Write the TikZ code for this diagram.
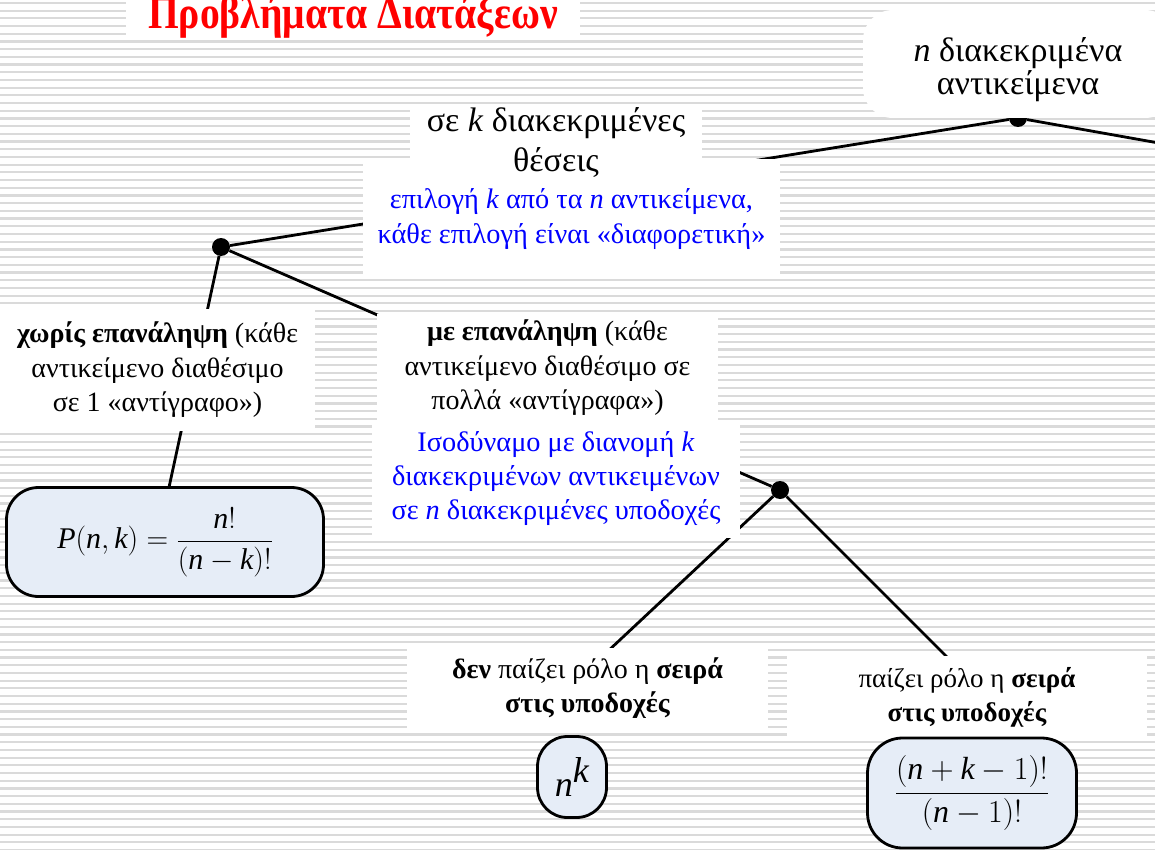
\RequirePackage{fix-cm}
\documentclass[tikz,border=0pt]{standalone}
\usepackage{fontspec}
\setmainfont{Liberation Serif}
\definecolor{boxblue}{RGB}{230,237,247}
\definecolor{stripe}{RGB}{218,218,218}
\newcommand{\iv}[1]{\textit{#1}}
\begin{document}
\begin{tikzpicture}[x=1pt,y=-1pt,
	dot/.style = {circle, fill = black, minimum size = 18pt, inner sep = 0pt},
	link/.style = {line width = 2.8pt},
	note/.style = {fill = white, align = center, inner sep = 0pt, font = {\fontsize{28}{34.5}\selectfont}},
	formula/.style = {draw, fill = boxblue, line width = 2.8pt, rounded corners = 30pt, inner sep = 0pt, font = {\fontsize{30}{36}\selectfont}}]
	\useasboundingbox (0,0) rectangle (1155,850);
	\foreach \y in {3,10.7,...,850} \draw[stripe, line width = 2.2pt] (0,\y) -- (1155,\y);
	% branch points
	\node[dot] (objdot) at (1018,118) {};
	\node[dot] (posdot) at (221,247) {};
	\node[dot] (repdot) at (780,490) {};
	\coordinate (edge) at (1170,145);
	\coordinate (pend) at (168,492);
	\coordinate (unordend) at (607,652);
	\coordinate (ordend) at (948,658);
	\draw[link] (objdot) -- (edge);
	\draw[link] (objdot) -- (posdot);
	\draw[link] (posdot) -- (pend);
	\draw[link] (posdot) -- (repdot);
	\draw[link] (repdot) -- (unordend);
	\draw[link] (repdot) -- (ordend);
	% title
	\node[fill = white, inner xsep = 22pt, inner ysep = 1pt, anchor = base, text = red, font = {\fontsize{46}{48}\selectfont\bfseries}] (title) at (353,29) {\scalebox{0.86}[1]{Προβλήματα Διατάξεων}};
	% text boxes
	\node[fill = white, rounded corners = 30pt, minimum width = 312pt, minimum height = 108pt] (objbox) at (1019,64) {};
	\node[align = center, inner sep = 0pt, font = {\fontsize{34}{33}\selectfont}] (objects) at (1018,70) {\iv{n} διακεκριμένα\\αντικείμενα};
	\node[note, text = blue, minimum width = 417pt, minimum height = 120pt, font = {\fontsize{28.3}{35}\selectfont}] (choice) at (571.5,219) {επιλογή \iv{k} από τα \iv{n} αντικείμενα,\\κάθε επιλογή είναι «διαφορετική»};
	\node[note, minimum width = 292pt, minimum height = 78pt, font = {\fontsize{34}{40}\selectfont}] (places) at (556,143) {σε \iv{k} διακεκριμένες\\θέσεις};
	\node[note, minimum width = 315pt, minimum height = 122pt] (norep) at (157.5,370) {\textbf{χωρίς επανάληψη} (κάθε\\αντικείμενο διαθέσιμο\\σε 1 «αντίγραφο»)};
	\node[note, minimum width = 341pt, minimum height = 108pt] (rep) at (547.5,368) {\textbf{με επανάληψη} (κάθε\\αντικείμενο διαθέσιμο σε\\πολλά «αντίγραφα»)};
	\node[note, text = blue, minimum width = 368pt, minimum height = 117pt, font = {\fontsize{28.3}{34}\selectfont}] (distr) at (556,479) {Ισοδύναμο με διανομή \iv{k}\\διακεκριμένων αντικειμένων\\σε \iv{n} διακεκριμένες υποδοχές};
	\node[note, minimum width = 361pt, minimum height = 80pt] (unord) at (587.5,688) {\textbf{δεν} παίζει ρόλο η \textbf{σειρά}\\\textbf{στις υποδοχές}};
	\node[note, minimum width = 360pt, minimum height = 82pt, font = {\fontsize{27}{34}\selectfont}] (ord) at (967,697) {παίζει ρόλο η \textbf{σειρά}\\\textbf{στις υποδοχές}};
	% results
	\node[formula, minimum width = 317pt, minimum height = 109pt, rounded corners = 32pt] (perm) at (165,542) {$\displaystyle \iv{P}(\iv{n},\iv{k}) = \frac{\iv{n}!}{(\iv{n}-\iv{k})!}$};
	\node[formula, minimum width = 69pt, minimum height = 81pt, font = {\fontsize{36}{40}\selectfont}] (power) at (572,777) {$\iv{n}^{\iv{k}}$};
	\node[formula, minimum width = 209pt, minimum height = 110pt, rounded corners = 35pt, font = {\fontsize{32}{38}\selectfont}] (multi) at (972,793) {$\displaystyle \frac{(\iv{n}+\iv{k}-1)!}{(\iv{n}-1)!}$};
\end{tikzpicture}
\end{document}
